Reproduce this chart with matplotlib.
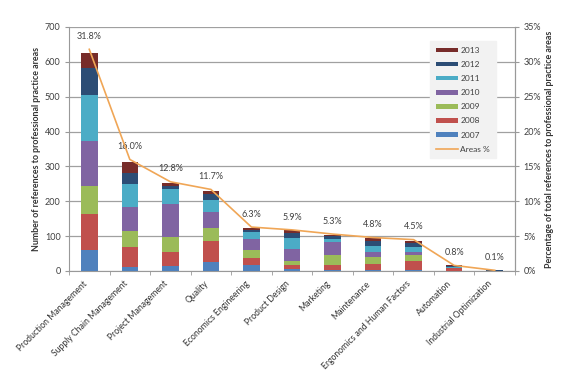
import matplotlib
matplotlib.use("Agg")
import matplotlib.pyplot as plt
from matplotlib.transforms import ScaledTranslation
import numpy as np

plt.rcParams['font.family'] = ['Lato', 'DejaVu Sans']

categories = ["Production Management", "Supply Chain Management", "Project Management",
              "Quality", "Economics Engineering", "Product Design", "Marketing",
              "Maintenance", "Ergonomics and Human Factors", "Automation",
              "Industrial Optimization"]
years = ["2007", "2008", "2009", "2010", "2011", "2012", "2013"]
v2007 = [60, 12, 15, 26, 17, 7, 2, 4, 4, 1, 0]
v2008 = [104, 58, 40, 61, 21, 11, 15, 15, 24, 8, 1]
v2009 = [80, 45, 42, 37, 22, 11, 28, 20, 17, 0, 0]
v2010 = [130, 70, 96, 45, 33, 34, 37, 16, 10, 1, 0]
v2011 = [130, 65, 41, 35, 19, 33, 11, 16, 14, 2, 0]
v2012 = [77, 31, 11, 17, 7, 12, 7, 16, 12, 3, 1]
v2013 = [44, 32, 7, 9, 3, 9, 4, 7, 6, 1, 0]
areas_pct = [31.8, 16.0, 12.8, 11.7, 6.3, 5.9, 5.3, 4.8, 4.5, 0.8, 0.1]

series = [v2007, v2008, v2009, v2010, v2011, v2012, v2013]
colors = ["#4F81BD", "#C0504D", "#9BBB59", "#8064A2", "#4BACC6", "#2C4D75", "#772C2A"]
line_color = "#F0A656"

fig = plt.figure(figsize=(5.83, 3.72), dpi=100)
ax = fig.add_axes([69/583, 1-271/372, (515-69)/583, (271-27)/372])
x = np.arange(len(categories))
bottom = np.zeros(len(categories))
handles = []
for yr, vals, c in zip(years, series, colors):
    b = ax.bar(x, vals, width=0.41, bottom=bottom, color=c, label=yr, zorder=3)
    bottom += np.array(vals)
    handles.append(b)

ax.set_xlim(-0.5, len(categories) - 0.5)
ax.set_ylim(0, 700)
ax.set_yticks(range(0, 701, 100))
ax.yaxis.grid(True, color="#A0A0A0", linewidth=0.9, zorder=0)
ax.set_axisbelow(True)
ax.spines["top"].set_visible(False)
for s in ["left", "bottom", "right"]:
    ax.spines[s].set_color("#999999")
ax.tick_params(axis='y', labelsize=6.5, colors="#999999", labelcolor="#404040", length=3, pad=3)
ax.set_xticks(x)
ax.set_xticklabels(categories, rotation=45, ha='right', rotation_mode='anchor', fontsize=6.2, color="#333333")
ax.tick_params(axis='x', length=0, pad=6)
shift = ScaledTranslation(-5/72, 0, fig.dpi_scale_trans)
for lab in ax.get_xticklabels():
    lab.set_transform(lab.get_transform() + shift)
ax.set_xticks(np.arange(-0.5, len(categories), 1), minor=True)
ax.tick_params(axis='x', which='minor', length=3, colors="#999999")
ax.set_ylabel("Number of references to professional practice areas", fontsize=6.4,
              fontweight='bold', color="#333333", labelpad=3)

ax2 = ax.twinx()
ax2.set_ylim(0, 35)
ax2.set_yticks(range(0, 36, 5))
ax2.set_yticklabels([f"{v}%" for v in range(0, 36, 5)])
ax2.tick_params(axis='y', labelsize=6.5, colors="#999999", labelcolor="#404040", length=3, pad=3)
for s in ["top", "left", "bottom"]:
    ax2.spines[s].set_visible(False)
ax2.spines["right"].set_color("#999999")
ln, = ax2.plot(x, areas_pct, color=line_color, linewidth=1.2, label="Areas %", zorder=4)
for xi, p in zip(x, areas_pct):
    ax2.annotate(f"{p:.1f}%", (xi, p), xytext=(0, 6), textcoords="offset points",
                 ha='center', va='bottom', fontsize=6.5, color="#404040")
ax2.set_ylabel("Percentage of total references to professional practice areas", fontsize=6.4,
               fontweight='bold', color="#333333", labelpad=3)

leg = ax2.legend(handles[::-1] + [ln], years[::-1] + ["Areas %"], loc='upper right',
                 bbox_to_anchor=(500/583, 1-37/372), bbox_transform=fig.transFigure,
                 fontsize=6, frameon=True, facecolor="#F2F2F2", edgecolor="#F2F2F2",
                 handlelength=2.6, handleheight=0.45, labelspacing=0.85, borderpad=0.7,
                 handletextpad=0.3, fancybox=False)
leg.get_frame().set_alpha(1)
for t in leg.get_texts():
    t.set_color("#404040")

fig.savefig("out.png", dpi=100)
